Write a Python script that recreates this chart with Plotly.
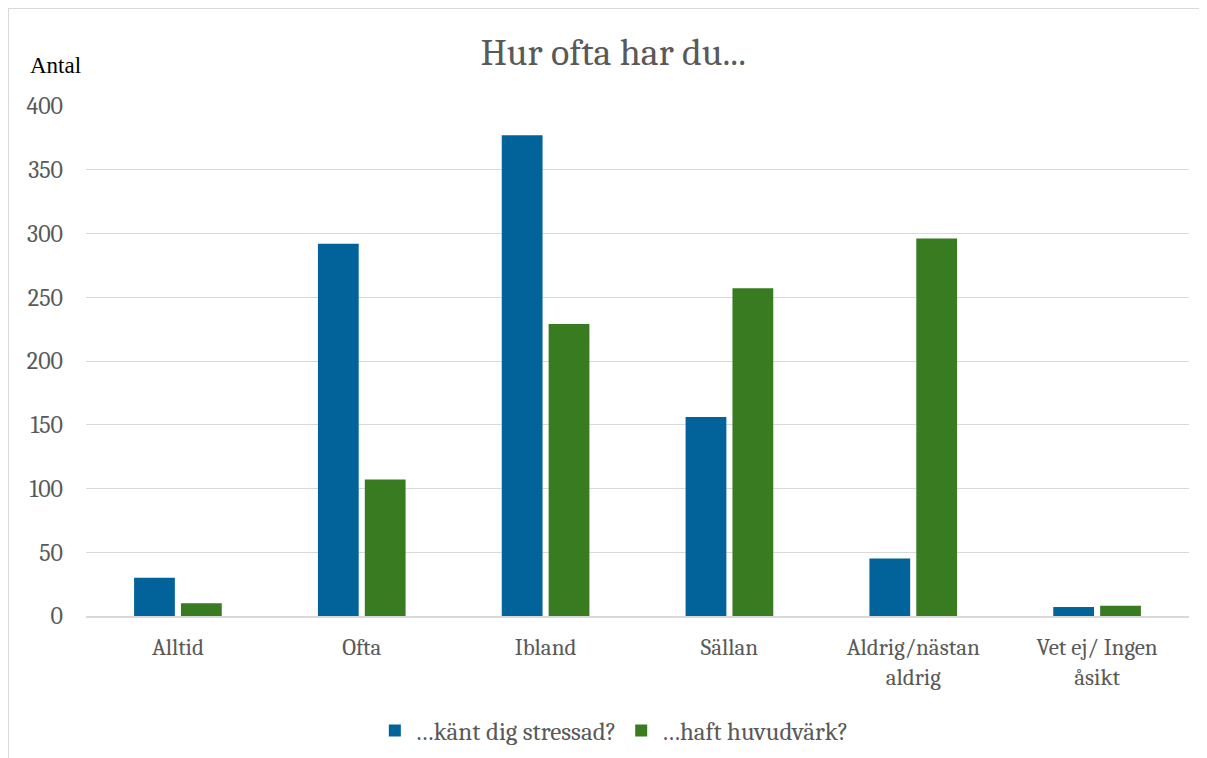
import plotly.graph_objects as go

categories = ['Alltid', 'Ofta', 'Ibland', 'Sällan', 'Aldrig/nästan<br>aldrig', 'Vet ej/ Ingen<br>åsikt']
stressad = [30, 292, 377, 156, 45, 7]
huvudvark = [10, 107, 229, 257, 296, 8]
y_ticks = [0, 50, 100, 150, 200, 250, 300, 350, 400]

SERIF = 'Cambria, "DejaVu Serif", serif'
GREY = '#595959'

fig = go.Figure()

fig.add_trace(go.Bar(
    x=categories,
    y=stressad,
    name='…känt dig stressad?',
    marker=dict(color='#02629A', line=dict(width=0))
))

fig.add_trace(go.Bar(
    x=categories,
    y=huvudvark,
    name='…haft huvudvärk?',
    marker=dict(color='#387B21', line=dict(width=0))
))

# outer chart border (cut off at right and bottom like the original)
fig.add_shape(type='rect', xref='paper', yref='paper',
              x0=-0.0707, x1=1.05, y0=-0.4, y1=1.192,
              line=dict(color='#D9D9D9', width=2), layer='below')

# "Antal" label above the y axis
fig.add_annotation(text='Antal', xref='paper', yref='paper',
                   x=-0.0526, y=1.051, xanchor='left', yanchor='bottom',
                   showarrow=False,
                   font=dict(family='"Liberation Serif", serif', size=23, color='#000000'))

fig.update_layout(
    width=1207,
    height=758,
    title=dict(text='Hur ofta har du...', x=0.478, xanchor='center', xref='paper',
               y=0.943, yanchor='middle',
               font=dict(family=SERIF, size=38, color=GREY)),
    barmode='group',
    bargap=0.49,
    bargroupgap=0.13,
    plot_bgcolor='white',
    paper_bgcolor='white',
    margin=dict(l=78, r=26, t=98, b=150),
    font=dict(family=SERIF, size=22, color=GREY),
    legend=dict(orientation='h', x=0.479, xanchor='center', y=-0.18, yanchor='top',
                font=dict(family=SERIF, size=25, color=GREY)),
    showlegend=True
)

fig.update_yaxes(range=[0, 400], tickvals=y_ticks, showgrid=True, gridcolor='#D9D9D9',
                 gridwidth=1, zeroline=False, showline=False, ticks='', ticklabelstandoff=22,
                 tickfont=dict(family=SERIF, size=24, color=GREY))
fig.update_xaxes(showline=True, linecolor='#D9D9D9', linewidth=2, ticks='',
                 ticklabelstandoff=9,
                 tickfont=dict(family=SERIF, size=23, color=GREY))

fig.write_html('out.html')
